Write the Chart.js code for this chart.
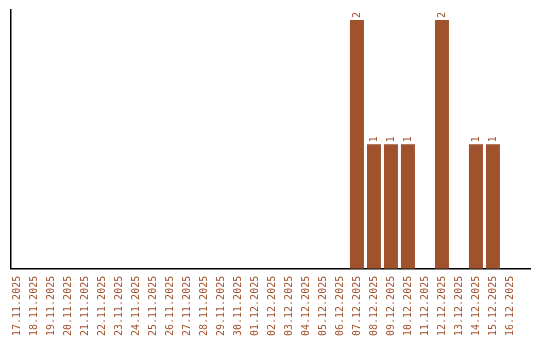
<!DOCTYPE html>
<html>
<head>
<meta charset="utf-8">
<script src="https://cdn.jsdelivr.net/npm/chart.js@4/dist/chart.umd.min.js"></script>
<style>
    html, body { margin: 0; padding: 0; background: #fff; }
    #wrap { width: 540px; height: 340px; }
</style>
</head>
<body>
<div id="wrap"><canvas id="bar-chart"></canvas></div>
<script>
var dates = ["17.11.2025", "18.11.2025", "19.11.2025", "20.11.2025", "21.11.2025",
    "22.11.2025", "23.11.2025", "24.11.2025", "25.11.2025", "26.11.2025",
    "27.11.2025", "28.11.2025", "29.11.2025", "30.11.2025", "01.12.2025",
    "02.12.2025", "03.12.2025", "04.12.2025", "05.12.2025", "06.12.2025",
    "07.12.2025", "08.12.2025", "09.12.2025", "10.12.2025", "11.12.2025",
    "12.12.2025", "13.12.2025", "14.12.2025", "15.12.2025", "16.12.2025"];
var counts = [0, 0, 0, 0, 0, 0, 0, 0, 0, 0,
    0, 0, 0, 0, 0, 0, 0, 0, 0, 0,
    2, 1, 1, 1, 0, 2, 0, 1, 1, 0];

var brown = "#a0522d";
var monoFont = { family: "'DejaVu Sans Mono', monospace", size: 10 };

// values written above each bar, turned on their side
var barValues = {
    id: 'barValues',
    afterDatasetsDraw: function (chart) {
        var ctx = chart.ctx;
        var meta = chart.getDatasetMeta(0);
        ctx.save();
        ctx.fillStyle = brown;
        ctx.font = "10px 'DejaVu Sans Mono', monospace";
        ctx.textAlign = 'left';
        ctx.textBaseline = 'middle';
        meta.data.forEach(function (bar, i) {
            if (!counts[i]) return;
            ctx.save();
            ctx.translate(bar.x, bar.y - 2);
            ctx.rotate(-Math.PI / 2);
            ctx.fillText(String(counts[i]), 0, 0);
            ctx.restore();
        });
        ctx.restore();
    }
};

var points = counts.map(function (v, i) {
    return { x: i, y: v };
});

new Chart(document.getElementById("bar-chart"), {
    type: 'bar',
    data: {
        datasets: [{
            data: points,
            backgroundColor: brown,
            categoryPercentage: 1,
            barPercentage: 14 / 17
        }]
    },
    options: {
        responsive: true,
        maintainAspectRatio: false,
        animation: false,
        layout: { padding: { left: 11, right: 10, top: 10, bottom: -3 } },
        plugins: {
            legend: { display: false },
            tooltip: { enabled: false }
        },
        scales: {
            x: {
                type: 'linear',
                offset: false,
                min: -0.353,
                max: 30.18,
                grid: { display: false, drawTicks: false },
                border: { display: true, color: '#000', width: 1.5 },
                ticks: {
                    stepSize: 1,
                    includeBounds: false,
                    autoSkip: false,
                    minRotation: 90,
                    maxRotation: 90,
                    padding: 7,
                    color: brown,
                    font: monoFont,
                    callback: function (v) {
                        return Number.isInteger(v) && dates[v] ? dates[v] : null;
                    }
                }
            },
            y: {
                min: 0,
                max: 2.08,
                grid: { display: false, drawTicks: false },
                border: { display: true, color: '#000', width: 1.5 },
                ticks: { display: false }
            }
        }
    },
    plugins: [barValues]
});
</script>
</body>
</html>
